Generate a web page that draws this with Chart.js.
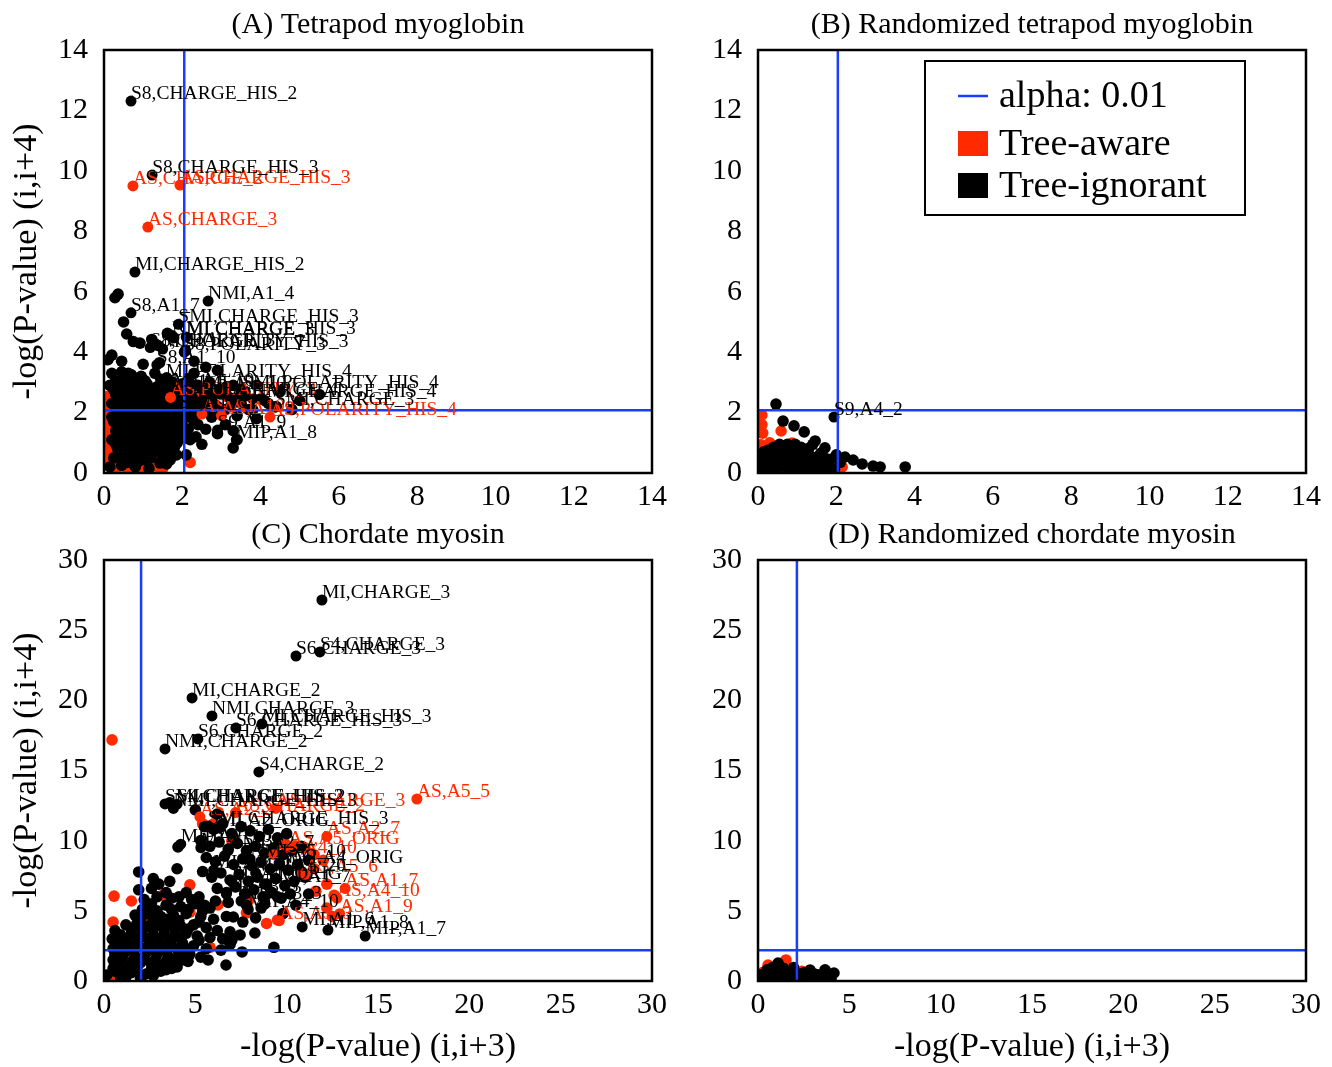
<!DOCTYPE html>
<html>
<head>
<meta charset="utf-8">
<script src="https://cdn.jsdelivr.net/npm/chart.js@4.4.1/dist/chart.umd.min.js"></script>
<style>
  body { margin: 0; background: #fff; }
  #wrap { position: relative; width: 1332px; height: 1067px; }
  canvas { position: absolute; }
</style>
</head>
<body>
<div id="wrap">
  <canvas id="chartA" width="680" height="510" style="left:0;top:0"></canvas>
  <canvas id="chartB" width="680" height="510" style="left:652px;top:0"></canvas>
  <canvas id="chartC" width="680" height="557" style="left:0;top:510px"></canvas>
  <canvas id="chartD" width="680" height="557" style="left:652px;top:510px"></canvas>
</div>
<script>
// tick labels and titles
const smallTicks = [0, 2, 4, 6, 8, 10, 12, 14];
const largeTicks = [0, 5, 10, 15, 20, 25, 30];
const panelTitles = ['(A) Tetrapod myoglobin', '(B) Randomized tetrapod myoglobin',
    '(C) Chordate myosin', '(D) Randomized chordate myosin'];
const xAxisTitle = '-log(P-value) (i,i+3)';
const yAxisTitle = '-log(P-value) (i,i+4)';
const legendLabels = ['alpha: 0.01', 'Tree-aware', 'Tree-ignorant'];

// alpha thresholds per panel: [x, y]
const alphaA = [2.05, 2.08];
const alphaB = [2.04, 2.08];
const alphaC = [2.03, 2.2];
const alphaD = [2.13, 2.2];

// (A) Tetrapod myoglobin
const aRed = [[0.08,0.3],[0.08,0.62],[0.08,0.95],[0.08,1.28],[0.08,1.6],[0.08,1.92],[0.1,2.25],[0.12,2.55],
    [0.3,0.12],[0.52,0.22],[0.35,0.45],[0.62,0.1],[0.98,0.2],[1.18,0.38],[1.3,0.62],[1.5,0.15],[2.2,0.35],
    [0.88,0.06],[1.72,0.55],[0.22,0.8],[1.1,0.08],[1.35,0.22],[0.18,1.45],[1.9,2.15],[0.6,2.1]];
const aBlack = [[0.28,5.8],[0.36,5.92],[0.5,5.0],[0.58,4.6],[0.2,3.9],[0.1,3.75],[0.45,3.7],[0.75,4.35],
    [0.92,4.3],[1.22,4.42],[1.38,4.22],[1.62,4.62],[1.78,4.48],[2.08,4.05],[1.0,3.6],[1.42,3.65],[2.3,3.7],[0.62,3.3],
    [0.2,3.3],[0.45,3.35],[0.7,3.25],[0.95,3.2],[1.3,3.3],[1.6,3.15],
    [0.3,3.05],[0.55,3.1],[0.8,3.0],[1.05,3.05],[1.45,3.1],[1.75,3.0],[2.15,3.1],
    [0.15,2.9],[0.4,2.95],[0.6,2.85],[0.85,2.9],[1.1,2.95],[1.35,2.85],[1.55,2.9],[1.8,2.8],[2.0,2.95],[2.3,2.9],[2.6,2.85],[3.0,2.8],
    [0.25,2.75],[0.5,2.7],[0.7,2.75],[0.95,2.75],[1.2,2.75],[1.45,2.7],[1.65,2.75],[1.9,2.7],[2.1,2.8],
    [0.3,2.6],[0.55,2.55],[0.8,2.65],[1.0,2.5],[1.25,2.6],[1.5,2.55],[1.7,2.6],[1.95,2.5],[2.2,2.65],[2.45,2.55],[2.8,2.6],[3.2,2.5],[3.6,2.55],[4.0,2.45],
    [0.35,2.45],[0.6,2.4],[0.9,2.45],[1.1,2.4],[1.35,2.45],[1.6,2.4],[1.8,2.45],[2.05,2.4],[2.3,2.45],
    [0.2,2.3],[0.45,2.25],[0.7,2.35],[0.95,2.2],[1.2,2.3],[1.45,2.25],[1.65,2.35],[1.9,2.2],[2.15,2.3],[2.5,2.25],[2.9,2.2],[3.3,2.3],
    [0.3,2.15],[0.55,2.1],[0.8,2.2],[1.05,2.1],[1.3,2.15],[1.55,2.1],[1.75,2.2],[2.0,2.1],[2.25,2.15],
    [0.35,2.0],[0.6,1.95],[0.85,2.05],[1.1,1.95],[1.35,2.0],[1.6,1.9],[1.85,2.05],[2.1,1.95],[2.4,2.0],[2.75,1.85],[3.4,1.9],
    [0.2,1.85],[0.45,1.85],[0.7,1.9],[0.95,1.8],[1.2,1.85],[1.45,1.8],[1.7,1.85],[1.95,1.8],[2.2,1.85],
    [0.25,1.7],[0.5,1.65],[0.75,1.75],[1.0,1.6],[1.25,1.7],[1.5,1.65],[1.75,1.7],[2.0,1.6],[2.3,1.7],[2.6,1.45],
    [0.4,1.55],[0.65,1.5],[0.9,1.55],[1.15,1.5],[1.4,1.55],[1.65,1.5],[1.9,1.55],[2.15,1.45],
    [0.3,1.4],[0.55,1.35],[0.8,1.45],[1.05,1.3],[1.3,1.4],[1.55,1.35],[1.8,1.4],[2.05,1.3],[2.2,1.1],
    [0.35,1.25],[0.6,1.2],[0.85,1.25],[1.1,1.2],[1.35,1.25],[1.6,1.2],[1.85,1.2],[2.05,1.15],
    [0.2,1.1],[0.45,1.05],[0.7,1.15],[0.95,1.0],[1.2,1.1],[1.45,1.05],[1.7,1.0],[1.87,1.0],
    [0.3,0.95],[0.55,0.9],[0.8,1.0],[1.05,0.9],[1.3,0.95],[1.55,0.9],[1.8,0.85],
    [0.35,0.8],[0.6,0.75],[0.85,0.85],[1.1,0.7],[1.35,0.8],[1.6,0.7],[2.1,0.6],
    [0.45,0.65],[0.7,0.7],[0.95,0.65],[1.2,0.6],[1.45,0.65],[1.85,0.6],
    [0.25,0.5],[0.5,0.45],[0.75,0.55],[1.0,0.45],[1.43,0.33],[1.55,0.5],[1.69,0.43],[0.74,0.33],
    [0.6,0.35],[0.9,0.4],[1.6,0.3],[1.2,0.5],
    [0.15,0.2],[0.45,0.25],[0.8,0.2],[1.15,0.15],
    [2.4,2.9],[2.7,3.0],[3.0,2.6],[3.3,2.9],[3.6,2.7],[3.9,2.9],[2.5,2.4],[2.8,2.3],[3.1,2.1],[3.5,2.3],
    [3.8,2.1],[4.1,2.4],[4.4,2.2],[2.3,3.3],[2.6,3.5],[2.9,3.4],[2.9,2.0],[3.1,1.6],[3.3,1.4],[2.9,1.3],
    [2.4,1.6],[3.7,2.1],[4.2,2.3],[4.5,2.7],[5.0,2.4],[5.5,2.6],[4.8,2.1],[3.9,1.8],[3.3,0.83],[3.4,1.1],
    [2.55,2.7],[2.85,2.75],[3.15,2.85],[3.45,2.6],[2.65,2.1],[3.25,2.25],[2.35,1.2],[2.5,0.95]];
const aRedLabels = [[0.74,9.5,'AS,CHARGE_2'],[1.94,9.53,'AS,CHARGE_HIS_3'],[1.12,8.14,'AS,CHARGE_3'],
    [4.24,1.85,'AS,POLARITY_HIS_4'],[3.0,1.9,'AS,A1_9'],[2.5,1.95,'AS,A1_10'],[1.7,2.5,'AS,POLARITY_3']];
const aBlackLabels = [[0.69,12.31,'S8,CHARGE_HIS_2'],[1.23,9.86,'S8,CHARGE_HIS_3'],[0.79,6.65,'MI,CHARGE_HIS_2'],
    [2.66,5.69,'NMI,A1_4'],[0.69,5.3,'S8,A1_7'],[1.9,4.92,'SMI,CHARGE_HIS_3'],[1.74,4.55,'NMI,CHARGE_HIS_3'],
    [2.1,4.5,'MI,CHARGE_3'],[1.18,4.15,'S8,CHARGE_3'],[1.5,4.1,'MI,POLARITY_HIS_3'],[2.05,4.0,'S8,POLARITY_3'],
    [1.35,3.58,'S8,A1_10'],[1.58,3.1,'MI,POLARITY_HIS_4'],[1.4,2.78,'S8,A1_5'],[1.75,2.82,'MI,A1_10'],
    [2.2,2.72,'NMI,A1_10'],[3.53,2.75,'SMI,POLARITY_HIS_4'],[3.8,2.45,'NMI,CHARGE_HIS_4'],[2.7,2.5,'MI,CHARGE_4'],
    [4.37,2.18,'SMI,CHARGE_3'],[1.9,2.1,'S8,A1_6'],[2.9,1.42,'S9,A1_9'],[3.38,1.1,'MIP,A1_8']];

// (B) Randomized tetrapod myoglobin
const bRed = [[0.1,1.92],[0.1,1.6],[0.12,1.32],[0.59,1.39],[0.08,0.93],[0.87,0.99],[2.15,0.2],
    [0.08,0.6],[0.08,0.3],[0.3,1.0]];
const bBlack = [[0.46,2.28],[0.64,1.72],[0.92,1.56],[1.18,1.36],[1.46,1.06],[1.4,0.95],[1.71,0.83],
    [2.22,0.53],[2.43,0.43],[2.66,0.3],[2.94,0.23],[3.12,0.2],[3.76,0.2],[2.1,0.35],[2.0,0.6],
    [0.12,0.15],[0.12,0.45],[0.25,0.75],[0.35,0.3],[0.5,0.55],[0.6,0.88],[0.7,0.2],[0.85,0.65],
    [1.0,0.4],[1.1,0.85],[1.25,0.18],[1.35,0.55],[1.5,0.3],[1.6,0.65],[1.75,0.15],[1.85,0.45],
    [1.95,0.12],[0.22,0.55],[0.45,0.1],[0.8,0.12],[1.05,0.12],[0.75,0.95],[0.95,0.95],[0.4,0.85],
    [1.3,0.82],[0.3,0.05],[1.5,0.05],[0.6,0.45],[1.2,0.45],[0.9,0.28],[1.65,0.38],[0.18,0.3],
    [1.4,0.3],[0.55,0.28],[1.1,0.65],[0.35,0.6],
    [0.2,0.1],[0.5,0.15],[0.65,0.35],[0.9,0.15],[1.15,0.3],[1.35,0.1],[1.6,0.2],[1.8,0.35],
    [0.25,0.4],[0.45,0.4],[0.75,0.5],[0.95,0.55],[1.25,0.65],[1.45,0.45],[1.7,0.5],[0.15,0.7],
    [0.45,0.7],[0.7,0.75],[1.0,0.75],[1.2,0.6],[1.55,0.55],[0.55,0.95],[0.85,0.85],[1.0,0.25],[1.3,0.4]];
const bRedLabels = [];
const bBlackLabels = [[1.94,1.85,'S9,A4_2']];

// (C) Chordate myosin
const cRed = [[0.55,6.05],[1.5,5.7],[0.5,4.2],[3.2,6.1],[4.7,6.85],[6.24,5.42],[4.3,3.6],[4.7,4.9],
    [1.15,0.64],[1.5,0.8],[5.8,2.4],[0.44,17.18],[7.8,4.85],[8.9,4.1],[9.5,4.35],[5.4,11.2],[6.0,11.2],
    [7.0,10.0],[9.9,9.8],[10.5,9.6],[11.0,9.5],[11.5,9.0],[12.0,8.6],[11.5,8.0],[10.8,7.7],[12.2,6.9],
    [11.6,6.4],[12.6,6.1],[12.2,5.2],[12.5,4.6],[3.0,1.0],[0.8,1.5],[2.5,4.4],[7.9,5.7],[0.45,0.3]];
const cBlack = [[0.16,0.43],[1.5,0.6],[2.3,0.5],[3.1,0.7],[3.7,0.9],[0.9,0.3],
    [1.2,0.3],[2.0,0.2],[2.7,0.4],[0.6,0.7],[0.5,0.9],[1.1,0.8],[1.8,0.9],[2.6,0.85],[3.4,0.8],[4.0,1.0],
    [0.8,1.2],[1.4,1.1],[2.0,1.3],[2.6,1.2],[3.2,1.1],[3.8,1.3],[4.3,1.5],[0.5,1.5],[4.6,1.4],
    [0.6,1.9],[1.1,2.0],[1.7,1.8],[2.3,2.0],[2.9,1.9],[3.5,1.8],[4.1,2.0],[4.7,1.9],[5.3,1.7],[6.68,1.14],
    [0.7,2.7],[1.3,2.6],[1.9,2.5],[2.5,2.7],[3.1,2.6],[3.7,2.5],[4.3,2.7],[4.9,2.5],[5.6,2.3],[7.56,2.07],
    [0.9,3.3],[1.5,3.4],[2.1,3.2],[2.7,3.3],[3.3,3.4],[3.9,3.2],[4.5,3.4],[5.1,3.2],
    [1.2,4.0],[1.8,4.1],[2.4,3.9],[3.0,4.0],[3.6,4.1],[4.2,3.9],[4.9,4.0],[5.6,3.8],
    [1.7,4.7],[2.4,4.8],[3.1,4.6],[3.8,4.7],[4.5,4.8],[5.3,4.6],[6.0,4.4],
    [2.1,5.1],[2.9,5.0],[3.7,5.1],[4.6,5.1],[5.4,5.0],
    [2.6,5.5],[3.4,5.4],[4.2,5.3],[5.0,5.5],[5.8,5.2],
    [1.0,1.6],[1.6,1.5],[2.2,1.6],[2.8,1.5],[3.4,1.4],[4.0,1.6],[1.0,2.3],[1.6,2.2],[2.2,2.3],[2.8,2.2],
    [3.4,2.2],[4.0,2.3],[4.6,2.2],[1.2,3.0],[1.8,2.9],[2.4,3.0],[3.0,2.9],[3.6,2.9],[4.2,3.0],[1.5,3.7],
    [2.1,3.6],[2.7,3.7],[3.3,3.7],[3.9,3.6],[4.6,3.7],[2.0,4.4],[2.7,4.3],[3.4,4.4],[4.1,4.3],[0.5,2.3],
    [0.45,3.0],[0.6,3.6],[5.2,2.9],[5.8,3.1],[6.2,3.6],[5.2,4.2],[6.4,2.2],[7.0,2.9],
    [1.9,7.77],[2.7,7.3],[3.0,6.9],[3.6,7.1],[4.0,8.0],[3.4,6.3],[3.7,5.9],[2.2,5.8],[4.1,6.0],[4.5,6.3],
    [5.2,6.0],[5.5,5.4],[6.1,5.7],[1.9,6.5],[2.6,6.6],[2.9,6.0],[4.8,5.8],
    [6.7,4.6],[7.08,4.56],[7.6,4.2],[6.9,3.5],[7.45,3.28],[8.26,3.42],[6.5,3.0],[5.7,1.5],[6.9,2.6],
    [8.3,4.5],[9.3,2.4],[8.8,5.5],[9.5,6.0],[10.5,5.4],[11.2,6.2],[9.8,4.8],[4.05,9.55],[3.6,12.7],
    [5.5,11.0],[6.0,10.8],[6.5,11.2],[7.0,10.5],[7.5,11.0],[8.0,10.7],[8.5,10.3],[9.0,10.8],[9.5,10.2],[10.0,10.5],
    [5.3,10.0],[5.8,9.6],[6.3,9.9],[6.8,9.4],[7.3,9.8],[7.8,9.3],[8.3,9.6],[8.8,9.1],[9.3,9.5],[9.8,9.0],[10.3,9.3],[10.8,9.6],
    [5.6,8.8],[6.1,8.5],[6.6,8.9],[7.1,8.3],[7.6,8.7],[8.1,8.2],[8.6,8.5],[9.1,8.0],[9.6,8.4],[10.1,7.9],[10.6,8.3],[11.2,8.6],
    [5.4,7.8],[5.9,7.4],[6.4,7.7],[6.9,7.2],[7.4,7.6],[7.9,7.1],[8.4,7.4],[8.9,6.9],[9.4,7.3],[9.9,6.8],[10.4,7.1],[11.0,7.4],
    [6.2,6.6],[6.7,6.3],[7.2,6.7],[7.7,6.2],[8.2,6.5],[8.7,6.0],[9.2,6.3],[9.7,5.9],[10.2,6.2],[6.8,5.6],[7.8,5.4],[8.6,5.2],
    [6.2,11.9],[5.0,12.2]];
const cRedLabels = [[17.13,12.97,'AS,A5_5'],[5.25,11.7,'AS,A2_2'],[9.4,12.3,'AS,CHARGE_3'],[7.2,12.0,'AS,CHARGE_2'],
    [12.2,10.3,'AS,A2_7'],[10.1,9.6,'AS,A5_ORIG'],[9.3,9.0,'AS,A4_10'],[11.0,7.6,'AS,A5_6'],[13.2,6.6,'AS,A1_7'],
    [12.75,5.9,'AS,A4_10'],[12.9,4.8,'AS,A1_9'],[9.6,4.3,'AS,A3_3']];
const cBlackLabels = [[11.93,27.15,'MI,CHARGE_3'],[10.51,23.16,'S6,CHARGE_3'],[11.82,23.45,'S4,CHARGE_3'],
    [4.82,20.17,'MI,CHARGE_2'],[5.91,18.89,'NMI,CHARGE_3'],[7.22,18.03,'S6,CHARGE_HIS_3'],
    [8.65,18.32,'MI,CHARGE_HIS_3'],[5.14,17.25,'S6,CHARGE_2'],[3.34,16.54,'NMI,CHARGE_2'],[8.48,14.9,'S4,CHARGE_2'],
    [3.34,12.62,'SMI,CHARGE_HIS_2'],[4.0,12.6,'S4,CHARGE_HIS_2'],[3.8,12.3,'NMI,CHARGE_HIS_3'],
    [5.7,11.05,'SMI,CHARGE_HIS_3'],[6.3,10.9,'MI,A2_ORIG'],[4.2,9.75,'MIP,A2_10'],[5.3,9.5,'MI,A5_3'],
    [6.8,9.3,'NMI,A2_7'],[8.0,8.7,'NMI,A5_10'],[9.6,8.3,'NMI,A4_ORIG'],[6.0,7.9,'MI,A3_10'],[8.3,7.7,'MIP,A5_20'],
    [7.0,7.1,'MI,A1_ORIG'],[8.8,6.9,'NMI,A1_7'],[6.7,6.2,'MI,A3_3'],[7.5,5.7,'MIP,A3_3'],[7.9,5.1,'MIP,A4_10'],
    [10.85,3.85,'MI,A1_6'],[12.26,3.63,'MIP,A1_8'],[14.3,3.2,'MIP,A1_7']];

// (D) Randomized chordate myosin
const dRed = [[0.55,1.14],[1.53,1.5],[0.25,0.6],[2.4,0.7]];
const dBlack = [[0.15,0.2],[0.4,0.45],[0.65,0.6],[0.9,0.5],[1.1,1.28],[1.25,0.7],[1.5,0.5],[1.75,0.65],
    [2.0,0.55],[2.3,0.5],[2.6,0.45],[2.85,0.78],[3.1,0.5],[3.4,0.4],[3.67,0.8],[3.9,0.35],[4.16,0.57],
    [0.3,0.1],[0.6,0.15],[0.9,0.1],[1.2,0.2],[1.5,0.1],[1.8,0.2],[2.1,0.15],[2.4,0.2],[2.7,0.15],[3.0,0.2],
    [3.3,0.15],[3.6,0.2],[4.0,0.15],[0.8,0.95],[1.4,0.9],[0.5,0.8],[1.95,0.95],[2.5,0.3],[3.2,0.25],
    [0.45,0.3],[0.75,0.35],[1.05,0.4],[1.35,0.3],[1.65,0.35],[1.95,0.3],[2.25,0.35],[2.55,0.6],
    [2.95,0.35],[3.25,0.45],[3.55,0.35],[3.85,0.5],[1.0,0.75],[0.2,0.45]];
const dRedLabels = [];
const dBlackLabels = [];

const RED = '#ff2a00';
const BLUE = '#1a3cff';
const FONT = '"Liberation Serif", "DejaVu Serif", serif';

const toPoints = (arr) => arr.map((p) => ({ x: p[0], y: p[1] }));

// draws the text of labelled points just right of and above each point
const pointLabelPlugin = {
    id: 'pointLabels',
    afterDatasetsDraw(chart) {
        const ctx = chart.ctx;
        chart.data.datasets.forEach((ds, i) => {
            if (!ds.pointLabels) return;
            const meta = chart.getDatasetMeta(i);
            ctx.save();
            ctx.font = '19.5px ' + FONT;
            ctx.fillStyle = ds.backgroundColor;
            ctx.textAlign = 'left';
            ctx.textBaseline = 'alphabetic';
            meta.data.forEach((pt, j) => {
                ctx.fillText(ds.pointLabels[j], pt.x, pt.y - 2);
            });
            ctx.restore();
        });
    },
};

// box around the plotting area
const framePlugin = {
    id: 'frame',
    afterDraw(chart) {
        const { ctx, chartArea } = chart;
        ctx.save();
        ctx.strokeStyle = '#000';
        ctx.lineWidth = 2.5;
        ctx.strokeRect(chartArea.left, chartArea.top, chartArea.right - chartArea.left, chartArea.bottom - chartArea.top);
        ctx.restore();
    },
};

// boxed legend in the upper right of panel B
const boxLegendPlugin = {
    id: 'boxLegend',
    afterDraw(chart, args, opts) {
        if (!opts.show) return;
        const { ctx, chartArea } = chart;
        const left = chartArea.left + 167;
        const top = chartArea.top + 11;
        ctx.save();
        ctx.fillStyle = '#fff';
        ctx.fillRect(left, top, 320, 154);
        ctx.strokeStyle = '#000';
        ctx.lineWidth = 2;
        ctx.strokeRect(left, top, 320, 154);
        ctx.font = '38px ' + FONT;
        ctx.textBaseline = 'middle';
        ctx.fillStyle = '#000';
        // alpha line
        ctx.strokeStyle = BLUE;
        ctx.lineWidth = 2.5;
        ctx.beginPath();
        ctx.moveTo(left + 33, top + 35);
        ctx.lineTo(left + 63, top + 35);
        ctx.stroke();
        ctx.fillText(legendLabels[0], left + 74, top + 36);
        ctx.fillStyle = RED;
        ctx.fillRect(left + 33, top + 70, 30, 25);
        ctx.fillStyle = '#000';
        ctx.fillText(legendLabels[1], left + 74, top + 84);
        ctx.fillRect(left + 33, top + 112, 30, 25);
        ctx.fillText(legendLabels[2], left + 74, top + 126);
        ctx.restore();
    },
};

const buildPanel = (canvasId, p) => {
    const ctx = document.getElementById(canvasId).getContext('2d');
    const maxVal = p.ticks[p.ticks.length - 1];
    const tickFont = { family: FONT, size: 30 };
    const titleFont = { family: FONT, size: 34 };

    const datasets = [
        { data: [{ x: p.alpha[0], y: 0 }, { x: p.alpha[0], y: maxVal }], showLine: true,
          borderColor: BLUE, borderWidth: 2.5, pointRadius: 0 },
        { data: [{ x: 0, y: p.alpha[1] }, { x: maxVal, y: p.alpha[1] }], showLine: true,
          borderColor: BLUE, borderWidth: 2.5, pointRadius: 0 },
        { data: toPoints(p.redLabels), pointLabels: p.redLabels.map((l) => l[2]),
          backgroundColor: RED, borderWidth: 0, pointRadius: 5.5 },
        { data: toPoints(p.blackLabels), pointLabels: p.blackLabels.map((l) => l[2]),
          backgroundColor: '#000', borderWidth: 0, pointRadius: 5.5 },
        { data: toPoints(p.black), backgroundColor: '#000', borderWidth: 0, pointRadius: 5.8 },
        { data: toPoints(p.red), backgroundColor: RED, borderWidth: 0, pointRadius: 5.8 },
    ];

    return new Chart(ctx, {
        type: 'scatter',
        data: { datasets: datasets },
        plugins: [pointLabelPlugin, framePlugin, boxLegendPlugin],
        options: {
            responsive: false,
            animation: false,
            events: [],
            layout: { padding: { left: 0, right: p.padRight, top: 0, bottom: 0 } },
            plugins: {
                legend: { display: false },
                tooltip: { enabled: false },
                title: {
                    display: true,
                    text: p.title,
                    fullSize: false,
                    color: '#000',
                    font: { family: FONT, size: 30, weight: 'normal' },
                    padding: { top: 7, bottom: 7 },
                },
                boxLegend: { show: p.legend },
            },
            scales: {
                x: {
                    type: 'linear',
                    min: 0,
                    max: maxVal,
                    grid: { display: false, drawTicks: false },
                    border: { display: false },
                    afterBuildTicks: (s) => { s.ticks = p.ticks.map((v) => ({ value: v })); },
                    afterFit: (s) => { s.height = p.xHeight; },
                    ticks: { font: tickFont, color: '#000', padding: 6, autoSkip: false, maxRotation: 0,
                             callback: (v) => String(v) },
                    title: { display: p.xTitle, text: xAxisTitle, font: titleFont, color: '#000',
                             padding: { top: 0, bottom: 0 } },
                },
                y: {
                    type: 'linear',
                    min: 0,
                    max: maxVal,
                    grid: { display: false, drawTicks: false },
                    border: { display: false },
                    afterBuildTicks: (s) => { s.ticks = p.ticks.map((v) => ({ value: v })); },
                    afterFit: (s) => { s.width = p.yWidth; },
                    ticks: { font: tickFont, color: '#000', padding: 16, autoSkip: false,
                             callback: (v) => String(v) },
                    title: { display: p.yTitle, text: yAxisTitle, font: titleFont, color: '#000',
                             padding: { top: 7, bottom: 0 } },
                },
            },
        },
    });
};

buildPanel('chartA', { title: panelTitles[0], ticks: smallTicks, alpha: alphaA, red: aRed, black: aBlack,
    redLabels: aRedLabels, blackLabels: aBlackLabels, padRight: 28, yWidth: 104, xHeight: 37,
    xTitle: false, yTitle: true, legend: false });
buildPanel('chartB', { title: panelTitles[1], ticks: smallTicks, alpha: alphaB, red: bRed, black: bBlack,
    redLabels: bRedLabels, blackLabels: bBlackLabels, padRight: 26, yWidth: 106, xHeight: 37,
    xTitle: false, yTitle: false, legend: true });
buildPanel('chartC', { title: panelTitles[2], ticks: largeTicks, alpha: alphaC, red: cRed, black: cBlack,
    redLabels: cRedLabels, blackLabels: cBlackLabels, padRight: 28, yWidth: 104, xHeight: 86,
    xTitle: true, yTitle: true, legend: false });
buildPanel('chartD', { title: panelTitles[3], ticks: largeTicks, alpha: alphaD, red: dRed, black: dBlack,
    redLabels: dRedLabels, blackLabels: dBlackLabels, padRight: 26, yWidth: 106, xHeight: 86,
    xTitle: true, yTitle: false, legend: false });
</script>
</body>
</html>
